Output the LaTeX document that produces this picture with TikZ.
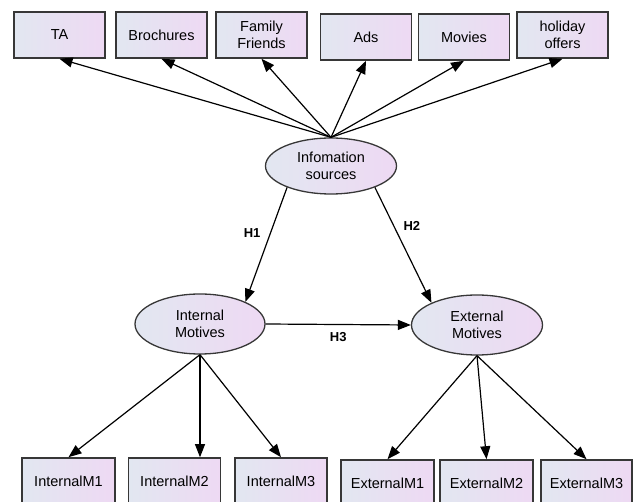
\documentclass[tikz,border=0pt]{standalone}
\usepackage{fontspec}
\setmainfont{Liberation Sans}
\usetikzlibrary{positioning,
        shapes,
        arrows.meta}
\definecolor{fillL}{RGB}{226,231,241}
\definecolor{fillR}{RGB}{238,217,243}
\definecolor{edgegray}{RGB}{55,55,55}

\tikzset{
    obsbox/.style={rectangle,draw=edgegray,line width=1.6pt,left color=fillL,right color=fillR,
        minimum width=91pt,minimum height=46pt,align=center,font=\fontsize{14.5}{17}\selectfont},
    latent/.style={ellipse,draw=edgegray,line width=1.3pt,left color=fillL,right color=fillR,
        minimum width=131pt,minimum height=56pt,inner sep=0pt,align=center,font=\fontsize{14.5}{17}\selectfont},
    path/.style={-{Triangle[length=13pt,width=10pt]},line width=1.2pt},
    hyp/.style={font=\bfseries\fontsize{13}{15}\selectfont}
}

\begin{document}
\begin{tikzpicture}[x=1pt,y=-1pt]
            \useasboundingbox (0,0) rectangle (633,502);
            \begin{scope}
            \clip (0,0) rectangle (633,502);
            % indicators of the information sources
            \node [obsbox] (TA) at (59.5,35) {TA};
            \node [obsbox] (Broch) at (161.5,35) {Brochures};
            \node [obsbox] (Family) at (261.5,35) {Family\\Friends};
            \node [obsbox] (Ads) at (366,37) {Ads};
            \node [obsbox] (Movies) at (464,37) {Movies};
            \node [obsbox] (Holiday) at (562.5,35) {holiday\\offers};

            % latent variables
            \node [latent] (Info) at (331,166) {Infomation\\sources};
            \node [latent,minimum width=130pt,minimum height=60pt] (IntMot) at (200,324) {Internal\\Motives};
            \node [latent,minimum width=131pt,minimum height=60pt] (ExtMot) at (477,325) {External\\Motives};

            % indicators of the motives
            \node [obsbox,minimum width=93pt] (IntM1) at (68.5,481) {InternalM1};
            \node [obsbox,minimum width=92pt] (IntM2) at (174.5,481) {InternalM2};
            \node [obsbox,minimum width=92pt] (IntM3) at (281,481) {InternalM3};
            \node [obsbox,minimum width=93pt] (ExtM1) at (387.5,483) {ExternalM1};
            \node [obsbox,minimum width=93pt] (ExtM2) at (486.5,483) {ExternalM2};
            \node [obsbox,minimum width=91pt] (ExtM3) at (586.5,483) {ExternalM3};
            \end{scope}

            \draw [path] (Info.north) -- (TA.south);
            \draw [path] (Info.north) -- (Broch.south);
            \draw [path] (Info.north) -- (Family.south);
            \draw [path] (Info.north) -- (Ads.south);
            \draw [path] (Info.north) -- (Movies.south);
            \draw [path] (Info.north) -- (Holiday.south);

            \draw [path] (Info.206) -- node [hyp,left=6pt,pos=0.4] {H1} (IntMot.26);
            \draw [path] (Info.334) -- node [hyp,right=6pt,pos=0.33] {H2} (ExtMot.154);
            \draw [path] (IntMot.east) -- node [hyp,below=4pt] {H3} (ExtMot.west);

            \draw [path] (IntMot.south) -- (IntM1.north);
            \draw [path] (IntMot.south) -- (IntMot.south |- IntM2.north);
            \draw [path] (IntMot.south) -- (IntM3.north);
            \draw [path] (ExtMot.south) -- (ExtM1.north);
            \draw [path] (ExtMot.south) -- (ExtM2.north);
            \draw [path] (ExtMot.south) -- (ExtM3.north);
        \end{tikzpicture}
\end{document}
